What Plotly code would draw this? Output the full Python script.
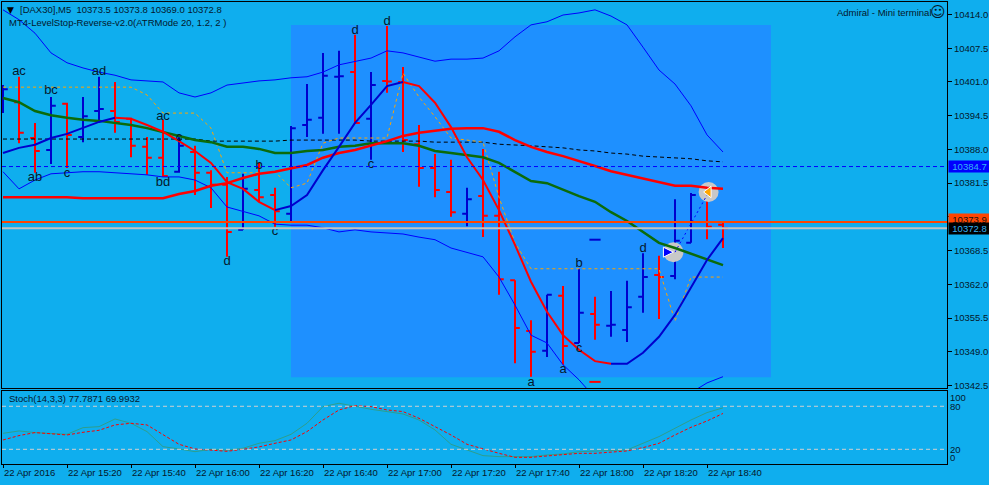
import plotly.graph_objects as go

bars = list(range(46))
open_ = [10396.6,10397.1,10390.2,10387.9,10396.8,10390.4,10395.4,10395.4,10393.9,10388.5,10386.4,10383.7,10387.5,10383.5,10381.2,10372.5,10380.2,10379.2,10375.6,10392.7,10394.1,10402.0,10402.9,10393.9,10401.2,10401.0,10389.0,10384.4,10379.8,10375.6,10379.0,10375.2,10362.8,10353.0,10349.2,10359.8,10350.7,10356.3,10354.0,10353.2,10359.6,10363.8,10363.6,10370.0,10379.2,10373.5]
high = [10400.4,10402.0,10393.1,10398.1,10397.0,10398.1,10402.0,10401.0,10394.1,10390.4,10393.7,10390.4,10388.7,10384.0,10382.7,10383.3,10385.4,10380.6,10392.5,10400.6,10406.6,10407.0,10410.1,10402.9,10411.8,10403.9,10392.7,10387.1,10386.0,10380.6,10388.1,10383.7,10362.8,10355.1,10360.0,10361.7,10365.0,10359.6,10360.7,10362.7,10368.0,10367.5,10378.4,10379.6,10379.4,10373.8]
low = [10395.0,10389.2,10383.5,10385.2,10384.4,10389.4,10393.5,10391.2,10386.5,10383.1,10382.7,10383.5,10379.2,10376.7,10367.3,10372.5,10377.9,10373.1,10374.0,10390.4,10391.0,10391.0,10393.1,10386.0,10398.9,10387.5,10380.8,10378.8,10375.0,10373.2,10371.1,10360.0,10346.8,10344.2,10348.0,10346.5,10350.7,10351.3,10351.9,10350.9,10356.5,10355.3,10363.0,10370.0,10370.7,10369.0]
close = [10399.6,10391.2,10387.7,10396.4,10390.8,10394.4,10395.8,10393.3,10388.7,10386.4,10382.9,10388.7,10383.5,10381.2,10372.1,10380.4,10378.8,10376.1,10392.1,10393.7,10402.2,10402.1,10393.1,10400.4,10401.1,10389.8,10384.4,10380.2,10375.9,10378.4,10375.2,10363.0,10353.6,10349.0,10360.0,10350.1,10356.5,10354.2,10354.2,10357.6,10363.4,10363.4,10370.4,10379.2,10373.1,10372.8]

band_upper = [10414.9,10413.0,10410.4,10406.6,10404.7,10403.7,10402.9,10402.3,10401.4,10401.2,10401.0,10398.9,10398.1,10398.9,10400.4,10400.8,10401.2,10401.4,10401.8,10402.0,10402.9,10404.3,10404.9,10405.6,10407.0,10406.6,10405.8,10405.0,10405.4,10405.4,10405.6,10407.0,10409.7,10412.0,10412.6,10413.9,10414.3,10414.9,10413.7,10412.0,10407.7,10403.3,10400.6,10396.4,10390.8,10387.5]
band_lower = [10383.7,10380.4,10382.1,10383.3,10383.5,10383.7,10383.7,10383.5,10383.3,10383.1,10382.7,10382.7,10382.1,10380.6,10376.9,10376.1,10375.2,10373.6,10373.4,10373.4,10372.9,10372.1,10372.5,10372.1,10371.9,10371.7,10371.1,10370.6,10369.0,10368.2,10367.3,10363.4,10358.0,10352.2,10350.7,10346.5,10343.6,10340.1,10338.2,10336.8,10336.8,10337.8,10339.3,10341.1,10343.0,10344.2]
ma_green = [10397.9,10397.1,10395.4,10394.6,10394.1,10393.7,10393.5,10393.1,10392.7,10392.1,10391.4,10390.6,10389.8,10389.4,10388.5,10388.5,10388.1,10387.3,10387.3,10387.7,10387.9,10388.5,10388.7,10389.2,10389.2,10389.2,10388.7,10387.7,10387.3,10386.9,10386.5,10385.4,10383.7,10381.9,10381.5,10380.2,10379.0,10377.9,10375.9,10374.2,10372.1,10370.0,10369.0,10367.9,10366.7,10365.7]
ma_slow = [10378.8,10378.8,10378.8,10378.8,10378.8,10378.6,10378.6,10378.6,10378.6,10378.6,10378.6,10379.4,10380.0,10381.0,10381.5,10382.5,10383.3,10383.7,10384.4,10385.0,10386.4,10387.3,10387.9,10388.7,10389.6,10390.6,10391.2,10391.6,10392.0,10392.1,10392.1,10391.4,10389.8,10388.5,10387.5,10386.7,10385.8,10384.8,10383.8,10383.1,10382.5,10381.7,10381.0,10381.0,10380.6,10380.4]
ma_fast = [10387.3,10388.3,10388.9,10390.2,10391.0,10392.1,10393.3,10394.1,10393.9,10392.7,10391.4,10389.6,10387.7,10385.4,10381.7,10380.4,10377.9,10376.3,10377.1,10379.2,10384.0,10388.5,10393.1,10396.6,10400.2,10401.0,10400.2,10397.0,10392.3,10386.5,10382.1,10376.3,10369.6,10362.5,10356.7,10352.2,10349.4,10347.2,10346.7,10346.7,10348.8,10351.9,10356.1,10361.5,10366.7,10370.9]
fast_blue_bars = list(range(0,8)) + list(range(17,26)) + list(range(38,46))
level_stop = [10400.0]*9 + [10398.5,10395.0,10395.0,10395.0,10392.1,10383.5,10383.5,10383.5,10383.7,10380.6,10381.5,10389.2,10390.2,10390.2,10390.2,10390.2,10402.7,10398.1,10394.3,10390.2,10389.8,10389.4,10378.8,10370.0] + [10365.0]*9 + [10354.9,10363.4,10363.4,10363.4]
black_level = [10390.0]*13 + [10389.6]*5 + [10389.8]*5 + [10389.6]*4 + [10389.4]*4 + [10389.0,10388.9,10388.7,10388.5,10388.3,10387.9,10387.7,10387.3,10387.1,10386.7,10386.5,10386.4,10386.2,10385.8,10385.6]

letter_bars = [1,2,3,4,6,10,10,11,16,14,17,22,24,23,33,35,36,36,40]
letter_prices = [10402.9,10382.5,10399.3,10383.3,10402.9,10394.3,10381.5,10390.2,10384.8,10366.3,10372.1,10410.8,10412.6,10385.0,10343.0,10345.5,10349.5,10365.9,10368.8]
letter_texts = ["ac","ab","bc","c","ad","ac","bd","c","b","d","c","d","d","c","a","a","c","b","d"]

stoch_k = [42.3,45.6,43.3,42.3,40.9,50.2,51.6,62.3,56.3,44.7,23.7,20.5,16.7,20.0,18.6,21.4,28.4,32.1,40.9,56.3,79.5,84.2,79.5,75.8,72.6,69.3,60.9,47.0,27.0,19.1,11.2,9.8,9.8,9.8,12.1,13.5,16.7,17.7,18.1,19.1,28.4,37.7,49.3,60.9,71.2,77.8]
stoch_d = [33.0,39.1,43.3,41.9,40.0,43.7,46.5,54.0,56.3,54.0,40.0,27.0,20.5,18.6,17.2,20.0,23.3,28.4,33.0,44.7,60.9,74.9,80.9,79.5,74.9,72.6,63.3,51.6,40.0,27.0,20.5,14.4,8.8,8.8,10.7,12.1,14.4,14.4,15.8,17.7,22.3,28.4,40.0,50.7,59.5,70.0]

price_ticks = [10414.0,10407.5,10401.0,10394.5,10388.0,10381.5,10375.0,10368.5,10362.0,10355.5,10349.0,10342.5]
time_ticks = [0,4,8,12,16,20,24,28,32,36,40,44]
time_labels = ["22 Apr 2016","22 Apr 15:20","22 Apr 15:40","22 Apr 16:00","22 Apr 16:20","22 Apr 16:40","22 Apr 17:00","22 Apr 17:20","22 Apr 17:40","22 Apr 18:00","22 Apr 18:20","22 Apr 18:40"]
stoch_tick_pos = [92.3,80,20,8.6]
stoch_tick_text = ["100","80","20","0"]

BG = "#0FAEEE"
PANEL = "#1E90FF"
BLUE = "#0000CD"
FONT = "Liberation Sans"
SMALL = 9.5
INK = "#04182C"

fast_blue = [p if i in fast_blue_bars else None for i, p in enumerate(ma_fast)]
fast_red = [p if 7 <= i <= 17 or 25 <= i <= 38 else None for i, p in enumerate(ma_fast)]

fig = go.Figure()
fig.add_trace(go.Scatter(x=bars, y=band_upper, mode="lines", line=dict(color="#0000FF", width=1)))
fig.add_trace(go.Scatter(x=bars, y=band_lower, mode="lines", line=dict(color="#0000FF", width=1)))
fig.add_trace(go.Scatter(x=bars, y=black_level, mode="lines", line=dict(color="#000000", width=1, dash="4px,3px")))
fig.add_trace(go.Scatter(x=bars, y=level_stop, mode="lines", line=dict(color="#FFA500", width=1, dash="3px,3px")))
fig.add_trace(go.Scatter(x=[41.9, 44.1], y=[10368.2, 10379.8], mode="markers", marker=dict(size=20, color="#C8C8C8")))
fig.add_trace(go.Scatter(x=[42, 44], y=[10368.2, 10379.2], mode="lines", line=dict(color="#0000FF", width=1, dash="2px,3px")))
fig.add_trace(go.Ohlc(x=bars, open=open_, high=high, low=low, close=close, tickwidth=0.3,
                      increasing=dict(line=dict(color=BLUE, width=2)),
                      decreasing=dict(line=dict(color="#FF0000", width=2))))
fig.add_trace(go.Scatter(x=bars, y=ma_green, mode="lines", line=dict(color="#0B6B0B", width=2.5)))
fig.add_trace(go.Scatter(x=bars, y=ma_slow, mode="lines", line=dict(color="#FF0000", width=2.5)))
fig.add_trace(go.Scatter(x=bars, y=fast_red, mode="lines", line=dict(color="#FF0000", width=2)))
fig.add_trace(go.Scatter(x=bars, y=fast_blue, mode="lines", line=dict(color=BLUE, width=2)))
fig.add_trace(go.Scatter(x=[37], y=[10370.6], mode="markers", marker=dict(symbol="line-ew", size=8, line=dict(color=BLUE, width=2))))
fig.add_trace(go.Scatter(x=[37], y=[10343.2], mode="markers", marker=dict(symbol="line-ew", size=8, line=dict(color="#FF0000", width=2))))
fig.add_trace(go.Scatter(x=[41.9], y=[10368.2], mode="markers", marker=dict(symbol="arrow-right", size=10, color="#0000FF", line=dict(color="#FFFFFF", width=1))))
fig.add_trace(go.Scatter(x=[44.1], y=[10379.8], mode="markers", marker=dict(symbol="triangle-left", size=10, color="#FFA500", line=dict(color="#FFFFFF", width=1))))
fig.add_trace(go.Scatter(x=letter_bars, y=letter_prices, text=letter_texts, mode="text",
                         textfont=dict(family=FONT, size=13, color=INK)))
fig.add_trace(go.Scatter(x=bars, y=stoch_k, mode="lines", xaxis="x2", yaxis="y2", line=dict(color="#2E9E8C", width=1)))
fig.add_trace(go.Scatter(x=bars, y=stoch_d, mode="lines", xaxis="x2", yaxis="y2", line=dict(color="#FF0000", width=1, dash="3px,2px")))

def hline(value, color, width, dash="solid"):
    return dict(type="line", xref="paper", yref="y", x0=0, x1=1, y0=value, y1=value,
                line=dict(color=color, width=width, dash=dash))

shapes = [
    dict(type="rect", xref="x", yref="y", x0=18, x1=48, y0=10344.1, y1=10412.0,
         fillcolor=PANEL, line=dict(width=0), layer="below"),
    hline(10384.7, "#0000FF", 1, "4px,3px"),
    hline(10374.0, "#FF4500", 2),
    hline(10372.8, "#C0C0C0", 2),
    dict(type="line", xref="x2 domain", yref="y2", x0=0, x1=1, y0=80, y1=80, line=dict(color="#D0D0D0", width=1, dash="4px,3px")),
    dict(type="line", xref="x2 domain", yref="y2", x0=0, x1=1, y0=20, y1=20, line=dict(color="#D0D0D0", width=1, dash="4px,3px")),
]

def px_x(px):
    return (px - 2) / 945

def px_y(py):
    return (464 - py) / 462

def note(text, px, py, size=SMALL, anchor="left", color=INK, family=FONT):
    return dict(text=text, xref="paper", yref="paper", x=px_x(px), y=px_y(py), xanchor=anchor, yanchor="middle",
                showarrow=False, font=dict(family=family, size=size, color=color))

def price_tag(value, text, bg, color, py_value=None):
    return dict(text=text, xref="paper", yref="y", x=px_x(948), y=py_value if py_value else value, xanchor="left", yanchor="middle",
                showarrow=False, bgcolor=bg, width=41, height=11, borderpad=0, align="center",
                font=dict(family=FONT, size=SMALL, color=color))

annotations = [
    note("▼", 5, 10, 9, color="#000000", family="DejaVu Sans"),
    note("[DAX30],M5  10373.5 10373.8 10369.0 10372.8", 18, 10),
    note("MT4-LevelStop-Reverse-v2.0(ATRMode 20, 1.2, 2 )", 7, 23),
    note("Admiral - Mini terminal", 835, 12),
    note("☺", 928, 12, 15, family="DejaVu Sans"),
    note("Stoch(14,3,3) 77.7871 69.9932", 7, 399),
    price_tag(10384.7, "10384.7", "#0000FF", "#35B5F5"),
    price_tag(10374.0, "10373.9", "#FF4500", "#111111", 10374.4),
    price_tag(10372.8, "10372.8", "#000000", "#35B5F5"),
]

fig.update_layout(
    width=989, height=485, margin=dict(l=2, r=42, t=2, b=21, pad=0),
    paper_bgcolor=BG, plot_bgcolor=BG, showlegend=False, hovermode=False,
    font=dict(family=FONT, size=SMALL, color=INK),
    shapes=shapes, annotations=annotations,
    xaxis=dict(domain=[0, 1], anchor="y", range=[-0.0625, 59], showgrid=False, zeroline=False,
               showline=True, mirror=True, linecolor="#000000", linewidth=1, showticklabels=False,
               ticks="", rangeslider=dict(visible=False), automargin=False),
    yaxis=dict(domain=[0.1645, 1], anchor="x", side="right", range=[10342.02, 10416.41], showgrid=False, zeroline=False,
               showline=True, mirror=True, linecolor="#000000", linewidth=1, automargin=False,
               tickmode="array", tickvals=price_ticks, ticktext=[f"{v:.1f}" for v in price_ticks],
               ticks="outside", ticklen=4, tickcolor="#000000", tickfont=dict(family=FONT, size=SMALL, color=INK)),
    xaxis2=dict(domain=[0, 1], anchor="y2", range=[-0.0625, 59], showgrid=False, zeroline=False,
                showline=True, mirror=True, linecolor="#000000", linewidth=1, automargin=False,
                tickmode="array", tickvals=time_ticks, ticktext=time_labels, ticks="outside", ticklen=3,
                tickcolor="#000000", ticklabelposition="outside right", tickangle=0,
                tickfont=dict(family=FONT, size=SMALL, color=INK)),
    yaxis2=dict(domain=[0, 0.158], anchor="x2", side="right", range=[-0.5, 101.3], showgrid=False, zeroline=False,
                showline=True, mirror=True, linecolor="#000000", linewidth=1, automargin=False,
                tickmode="array", tickvals=stoch_tick_pos, ticktext=stoch_tick_text, ticks="",
                tickfont=dict(family=FONT, size=SMALL, color=INK)),
)

fig.write_html("out.html", config=dict(displayModeBar=False), post_script="document.body.style.margin='0';document.documentElement.style.overflow='hidden';")
